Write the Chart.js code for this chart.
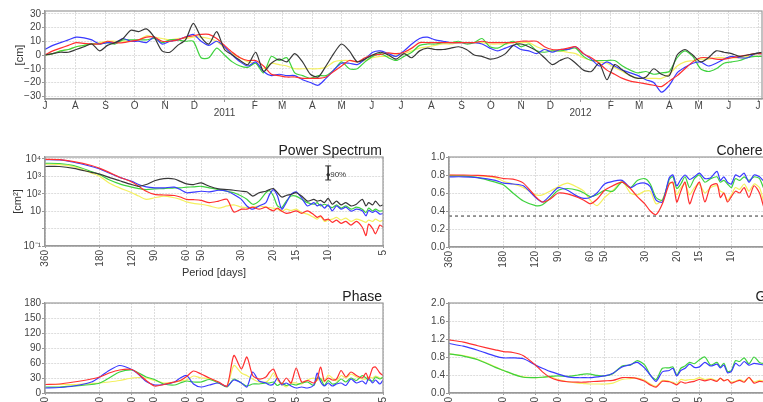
<!DOCTYPE html>
<html><head><meta charset="utf-8">
<script src="https://cdn.jsdelivr.net/npm/chart.js@4.4.1/dist/chart.umd.min.js"></script>
<style>
html,body{margin:0;padding:0;width:763px;height:402px;overflow:hidden;background:#fff;}
.box{position:absolute;}
canvas{display:block;}
</style></head><body>
<div class="box" style="left:0;top:0;width:763px;height:125px"><canvas id="c0" width="763" height="125"></canvas></div>
<div class="box" style="left:0;top:135px;width:400px;height:145px"><canvas id="c1" width="400" height="145"></canvas></div>
<div class="box" style="left:400px;top:135px;width:400px;height:145px"><canvas id="c2" width="400" height="145"></canvas></div>
<div class="box" style="left:0;top:280px;width:400px;height:150px"><canvas id="c3" width="400" height="150"></canvas></div>
<div class="box" style="left:400px;top:280px;width:400px;height:150px"><canvas id="c4" width="400" height="150"></canvas></div>
<script>
// ---------- DATA: time series (days since 1 Jul 2010) ----------
const days = [0,8,16,24,32,40,48,56,64,72,80,88,96,104,112,120,128,136,144,152,160,168,176,184,192,200,208,216,224,232,240,248,256,264,272,280,288,296,304,312,320,328,336,344,352,360,368,376,384,392,400,408,416,424,432,440,448,456,464,472,480,488,496,504,512,520,528,536,544,552,560,568,576,584,592,600,608,616,624,632,640,648,656,664,672,680,688,696,704,712,720,728,735];
const seaBlack = [0,1,2,2,4,6,8,3,7,9, 12,18,17,19,13,3,2,7,11,23, 13,8,17,4,0,-4,-7,2,-12,-6, -3,-5,1,-5,-14,-16,-8,1,8,3, -5,-3,0,2,0,-3,1,-2,3,5, 4,4,5,6,4,0,-1,-3,-2,1, 7,8,6,3,-2,-7,-4,-2,-6,-11, -12,-6,-18,-7,-11,-15,-17,-16,-10,-14, -15,0,4,0,-5,-2,3,2,1,-1, 0,1,2];
const seaBlue = [4,7,9,11,13,12.5,11,8,9,9, 12,10,10,9,13,8,10,11,13,15, 10,7,10,6,0,-5,-8,-5,-12,-15, -14,-15,-15,-18,-20,-22,-17,-11,-6,-6, -7,-3,2,3,1,-1,3,8,12,13, 11,10,9,9,9,9,8,5,3,5, 7,4,3,1,4,2,4,4,6,1, -3,-8,-5,-8,-11,-13,-15,-18,-20,-27, -22,-13,-9,-6,-5,-8,-6,-3,-1,-2, -2,1,1];
const seaRed = [0,3,5,7,9,8.5,8,8,10,9, 9,10,11,13,13,10,10,11,13,14, 15,15,12,7,2,-2,-4,-4,-8,-14, -15,-16,-16,-17,-17,-17,-16,-12,-8,-4, -5,-2,0,0.5,1.5,1,2,5,9,9, 9,9,9,9,9,9,10,9,9,9, 9,10,10,10,6,4,4,5,6,1, -2,-6,-11,-14,-17,-19,-20,-21,-22,-23, -19,-15,-10,-5,-2,-2,-3,-3,-2,-1, 0,1,1];
const seaGreen = [0,1,3,4,6,7,8,8,9,8, 11,11,11,11,12,9,11,11,10,10, -2,-2,5,0,-5,-8,-9,-6,-13,-1, -4,-2,-13,-15,-17,-15,-15,-11,-5,-10, -10,-5,-1,1,-2,-4,-1,2,7,8, 8,9,9,10,8,9,12,6,5,8, 10,6,8,3,2,3,3,4,5,-1, -4,-4,-4,-4,-8,-11,-13,-12,-14,-13, -12,-2,3,-1,-10,-12,-10,-6,-5,-4, -2,-1,-1];
const seaYellow = [0,1,3,4,6,7,8,9,10,10, 10,10,11,14,13,12,11,12,12,13, 13,12,10,5,1,-2,-5,-6,-10,-6, -7,-8,-10,-10,-10,-10,-9,-5,-4,-4, -5,-4,-2,-1,-1,0,1,3,5,6, 7,8,8,9,9,9,9,8,8,8, 9,9,9,6,4,3,3,2,1,-2, -4,-5,-6,-9,-12,-15,-17,-17,-17,-17, -14,-8,-5,-4,-3,-3,-2,-2,-2,-2, -1,-1,-1];
const monthTickDays = [0,31,62,92,123,153,184,215,243,274,304,335,365,396,427,457,488,518,549,580,609,640,670,701,731];
const monthTickLabels = ['J','A','S','O','N','D',['','2011'],'F','M','A','M','J','J','A','S','O','N','D',['','2012'],'F','M','A','M','J','J'];
const seaTicks = [-30,-20,-10,0,10,20,30];

// ---------- DATA: spectra (period in days) ----------
const periods = [360,300,250,200,180,160,140,120,110,100, 90,80,70,65,60,55,50,45,40,36, 33,30,28,26,24,22,21,20,19,18, 17,16,15,14,13,12,11.5,11,10.5,10, 9.5,9,8.5,8,7.5,7,6.5,6.2,6,5.7, 5.5,5.2,5];
const periodTicks = [360,180,120,90,60,50,30,20,15,10,5];

const psBlack = [3700,3700,2900,1700,1350,870,560,340,270,340, 560,740,710,520,370,340,420,270,190,175, 160,140,130,74,115,140,175,200,115,65, 80,92,115,74,38,48,38,42,31,55, 25,38,23,31,20,25,48,20,31,23, 38,20,23];
const psBlue = [9200,8900,6500,3700,2700,1550,870,520,340,250, 220,220,240,175,115,125,140,130,160,140, 92,48,20,13,20,31,92,175,74,13, 31,92,130,59,20,31,20,25,15,23, 10.5,20,13,17,10,13,10.5,5.4,11,8.4, 10.5,6.8,7.3];
const psRed = [9600,9200,7000,4200,2900,1700,900,480,270,140, 92,85,80,65,48,46,42,31,38,48, 9,13,13,17,13,17,13,10.5,15,10, 7.5,8.4,10.5,7.5,10.5,6.3,4.4,5.4,3.1,3.5, 2.3,3.1,2.0,2.6,1.6,2.6,1.2,0.4,1.8,1.0, 0.5,1.6,1.2];
const psGreen = [5700,5500,4200,1900,1230,640,370,240,200,175, 190,200,220,220,240,250,270,220,175,140, 115,74,48,25,38,115,150,74,20,16, 38,74,74,48,31,25,31,20,25,20, 16,23,15,20,13,17,13,8.4,15,10.5, 13,10,11];
const psYellow = [5000,4800,3700,1550,1000,420,220,115,74,48, 59,74,59,48,34,28,25,20,15,20, 23,17,16,17,20,17,16,15,13,10, 13,11,13,8.4,6.8,4.4,3.5,4.8,2.6,3.1, 3.5,4.4,3.1,4,2.6,3.5,2.8,2.3,3.1,2.6, 3.5,2.6,3.1];
const psTicks = [0.1,1,10,100,1000,10000];
const psTickLabels = ['10\u207B\u00B9','','10','10\u00B2','10\u00B3','10\u2074'];
const errPeriod = [10,10,10];
const errValues = [4000,1230,620];

const cohRed = [0.80,0.80,0.795,0.78,0.76,0.755,0.71,0.56,0.50,0.53, 0.60,0.59,0.55,0.52,0.48,0.53,0.63,0.68,0.72,0.65, 0.56,0.48,0.40,0.36,0.48,0.70,0.72,0.50,0.62,0.72, 0.48,0.62,0.72,0.50,0.68,0.70,0.55,0.60,0.50,0.56, 0.62,0.60,0.66,0.55,0.68,0.60,0.40,0.45,0.55,0.50, 0.52,0.48,0.50];
const cohBlue = [0.78,0.78,0.77,0.74,0.71,0.70,0.68,0.55,0.50,0.57, 0.66,0.63,0.56,0.54,0.55,0.60,0.70,0.73,0.74,0.66, 0.70,0.71,0.67,0.52,0.50,0.77,0.80,0.68,0.75,0.80, 0.75,0.78,0.82,0.76,0.77,0.84,0.74,0.78,0.72,0.70, 0.80,0.78,0.82,0.72,0.80,0.78,0.72,0.75,0.78,0.74, 0.76,0.72,0.74];
const cohGreen = [0.79,0.79,0.77,0.72,0.69,0.60,0.51,0.46,0.47,0.54, 0.63,0.65,0.63,0.60,0.56,0.58,0.63,0.62,0.72,0.66, 0.74,0.76,0.70,0.55,0.52,0.75,0.78,0.65,0.70,0.78, 0.66,0.76,0.80,0.72,0.76,0.78,0.72,0.74,0.70,0.66, 0.76,0.74,0.78,0.74,0.78,0.76,0.62,0.68,0.72,0.70, 0.72,0.68,0.70];
const cohYellow = [0.80,0.79,0.79,0.77,0.73,0.70,0.66,0.58,0.58,0.62, 0.67,0.71,0.66,0.62,0.52,0.46,0.55,0.63,0.73,0.60, 0.58,0.62,0.62,0.48,0.53,0.72,0.70,0.58,0.66,0.70, 0.58,0.66,0.70,0.60,0.66,0.68,0.62,0.60,0.52,0.58, 0.66,0.64,0.70,0.62,0.70,0.66,0.45,0.50,0.58,0.55, 0.56,0.52,0.54];
const cohLevel = [0.344,0.344];
const cohLevelPeriods = [360,5];
const cohTicks = [0,0.2,0.4,0.6,0.8,1.0];

const phRed = [17,18,22,28,32,40,46,47,38,25, 14,17,22,25,33,44,38,30,22,14, 75,48,72,35,28,32,42,48,30,18, 30,20,50,22,25,20,28,52,24,30, 26,28,45,32,42,35,30,40,28,50, 52,40,35];
const phYellow = [17,17,17,19,20,22,25,30,31,30, 25,20,22,24,26,34,30,29,20,14, 55,40,35,28,22,22,28,40,25,18, 12,20,20,18,26,30,25,30,22,36, 30,24,35,30,38,32,28,28,32,30, 34,30,30];
const phGreen = [12,12,14,17,20,30,42,46,40,32, 27,18,16,20,24,22,22,27,20,12, 28,20,14,18,18,20,20,22,15,20, 15,18,16,20,22,15,30,28,15,25, 18,20,28,22,30,25,35,30,26,24, 32,28,32];
const phBlue = [10,11,14,22,32,45,55,47,37,23, 16,17,22,30,35,18,12,16,20,13, 26,20,12,42,24,20,16,18,30,16, 20,14,10,12,10,16,40,22,14,20, 14,18,20,15,28,20,24,18,30,20, 26,18,26];
const phTicks = [0,30,60,90,120,150,180];

const gnRed = [1.18,1.13,1.05,0.96,0.92,0.90,0.83,0.62,0.47,0.35, 0.28,0.25,0.24,0.24,0.25,0.26,0.27,0.28,0.34,0.34, 0.32,0.26,0.18,0.13,0.26,0.25,0.22,0.18,0.25,0.22, 0.24,0.26,0.30,0.27,0.30,0.26,0.33,0.27,0.30,0.22, 0.25,0.28,0.24,0.35,0.22,0.26,0.24,0.28,0.25,0.27, 0.24,0.26,0.25];
const gnBlue = [1.10,1.04,0.95,0.82,0.78,0.78,0.76,0.62,0.55,0.48, 0.42,0.36,0.34,0.34,0.34,0.36,0.38,0.44,0.58,0.63, 0.68,0.55,0.40,0.26,0.47,0.50,0.55,0.38,0.50,0.55, 0.64,0.57,0.58,0.68,0.60,0.64,0.56,0.62,0.45,0.48, 0.66,0.60,0.70,0.62,0.66,0.64,0.62,0.66,0.60,0.64, 0.62,0.66,0.64];
const gnGreen = [0.87,0.82,0.74,0.57,0.50,0.42,0.35,0.34,0.35,0.37, 0.38,0.37,0.40,0.42,0.42,0.39,0.38,0.43,0.60,0.62, 0.72,0.62,0.40,0.30,0.55,0.56,0.58,0.40,0.55,0.60, 0.68,0.65,0.74,0.80,0.62,0.68,0.58,0.66,0.48,0.50, 0.72,0.70,0.78,0.65,0.80,0.68,0.66,0.72,0.64,0.70, 0.68,0.72,0.70];
const gnYellow = [0.87,0.83,0.75,0.58,0.50,0.42,0.36,0.34,0.35,0.36, 0.30,0.25,0.22,0.21,0.20,0.20,0.20,0.22,0.30,0.32, 0.33,0.28,0.20,0.15,0.28,0.26,0.24,0.20,0.30,0.28, 0.30,0.30,0.34,0.30,0.32,0.28,0.32,0.28,0.30,0.24, 0.26,0.30,0.26,0.33,0.25,0.28,0.26,0.28,0.27,0.28, 0.26,0.27,0.27];
const gnTicks = [0,0.4,0.8,1.2,1.6,2.0];

// ---------- STYLE ----------
const FONT = "'Liberation Sans', Arial, Helvetica, sans-serif";
Chart.defaults.font.family = FONT;
Chart.defaults.color = '#444';
const COL = {black:'#383838', blue:'#3a3aff', red:'#ff3030', green:'#3fd23f', yellow:'#f4f060'};
const GRID = '#dddddd';

const framePlugin = {
  id: 'frame',
  afterDraw(chart, args, opts) {
    const a = chart.chartArea, c = chart.ctx;
    c.save();
    c.strokeStyle = '#9a9a9a'; c.lineWidth = 1.2;
    c.strokeRect(a.left, a.top, a.right - a.left, a.bottom - a.top);
    if (opts && opts.text) {
      c.fillStyle = '#222'; c.font = '14px ' + FONT;
      c.textAlign = 'right'; c.textBaseline = 'alphabetic';
      c.fillText(opts.text, a.right - 1, a.top - 2);
    }
    c.restore();
  }
};
Chart.register(framePlugin);

function pts(xs, ys) { return xs.map((x, i) => ({x: x, y: ys[i]})); }
function ds(label, xs, ys, color) {
  return {label: label, data: pts(xs, ys), borderColor: color, backgroundColor: color,
          borderWidth: 1.2, pointRadius: 0, tension: 0.25, fill: false};
}
function gridOpts() { return {color: GRID, tickLength: 3, tickColor: '#999'}; }
function borderOpts() { return {color: '#999', width: 1.2, dash: [2, 1]}; }

// ---------- TOP: sea level time series ----------
new Chart(document.getElementById('c0'), {
  type: 'line',
  data: {datasets: [
    ds('black', days, seaBlack, COL.black),
    ds('red', days, seaRed, COL.red),
    ds('blue', days, seaBlue, COL.blue),
    ds('green', days, seaGreen, COL.green),
    ds('yellow', days, seaYellow, COL.yellow)
  ]},
  options: {
    responsive: false, animation: false, devicePixelRatio: 1,
    layout: {padding: {left: 0, right: 1, top: 11, bottom: 0}},
    plugins: {legend: {display: false}, tooltip: {enabled: false}, frame: {text: ''}},
    scales: {
      x: {type: 'linear', min: 0, max: 735,
          afterBuildTicks: s => { s.ticks = monthTickDays.map(v => ({value: v})); },
          afterFit: s => { s.height = 26; },
          ticks: {autoSkip: false, maxRotation: 0, minRotation: 0, padding: 1,
                  font: {size: 10, lineHeight: 0.65}, color: '#444',
                  callback: (v, i) => monthTickLabels[i]},
          grid: gridOpts(), border: borderOpts()},
      y: {type: 'linear', min: -32, max: 32,
          afterBuildTicks: s => { s.ticks = seaTicks.map(v => ({value: v})); },
          afterFit: s => { s.width = 45; },
          ticks: {autoSkip: false, padding: 1, font: {size: 10}, color: '#444',
                  callback: v => v < 0 ? '\u2212' + Math.abs(v) : String(v)},
          grid: gridOpts(), border: borderOpts(),
          title: {display: true, text: '[cm]', font: {size: 11}, color: '#333', padding: {top: 13, bottom: 0}}}
    }
  }
});

// ---------- spectral panels ----------
function specChart(id, cfg) {
  return new Chart(document.getElementById(id), {
    type: 'line',
    data: {datasets: cfg.datasets},
    options: {
      responsive: false, animation: false, devicePixelRatio: 1,
      layout: {padding: {left: 0, right: cfg.padRight, top: cfg.padTop, bottom: 0}},
      plugins: {legend: {display: false}, tooltip: {enabled: false}, frame: {text: cfg.title}},
      scales: {
        x: {type: 'logarithmic', reverse: true, min: 5, max: 360,
            afterBuildTicks: s => { s.ticks = periodTicks.map(v => ({value: v})); },
            afterFit: s => { s.height = cfg.xH; },
            ticks: {autoSkip: false, minRotation: 90, maxRotation: 90, padding: 2,
                    font: {size: 10}, color: '#444', callback: v => String(v)},
            grid: Object.assign(gridOpts(), {tickLength: 2}), border: borderOpts(),
            title: cfg.xTitle ? {display: true, text: cfg.xTitle, font: {size: 11}, color: '#333', padding: {top: 5, bottom: 0}} : {display: false}},
        y: {type: cfg.yType, min: cfg.yMin, max: cfg.yMax,
            afterBuildTicks: s => { s.ticks = cfg.yTicks.map(v => ({value: v})); },
            afterFit: s => { s.width = cfg.yW; },
            ticks: {autoSkip: false, padding: 1, font: {size: 10}, color: '#444', callback: cfg.yLabel},
            grid: gridOpts(), border: borderOpts(),
            title: cfg.yTitle ? {display: true, text: cfg.yTitle, font: {size: 11}, color: '#333', padding: {top: 11, bottom: 0}} : {display: false}}
      }
    },
    plugins: cfg.plugins || []
  });
}

const errLabelPlugin = {
  id: 'errLabel',
  afterDatasetsDraw(chart) {
    const idx = chart.data.datasets.findIndex(d => d.label === '90%');
    if (idx < 0) return;
    const p = chart.getDatasetMeta(idx).data[1];
    const c = chart.ctx;
    c.save(); c.font = '8px ' + FONT; c.fillStyle = '#333'; c.textBaseline = 'middle';
    c.fillText('90%', p.x + 2, p.y); c.restore();
  }
};

specChart('c1', {
  title: 'Power Spectrum', padRight: 17, padTop: 22, xH: 34, yW: 45,
  yType: 'logarithmic', yMin: 0.1, yMax: 13000, yTicks: psTicks,
  yLabel: (v, i) => psTickLabels[i], yTitle: '[cm\u00B2]', xTitle: 'Period [days]',
  datasets: [
    {label: '90%', data: pts(errPeriod, errValues), borderColor: '#333', backgroundColor: '#333', borderWidth: 1,
     tension: 0, pointStyle: ['line', 'circle', 'line'], pointRadius: [3, 1.3, 3], pointBorderWidth: 1},
    ds('black', periods, psBlack, COL.black),
    ds('red', periods, psRed, COL.red),
    ds('blue', periods, psBlue, COL.blue),
    ds('green', periods, psGreen, COL.green),
    ds('yellow', periods, psYellow, COL.yellow)
  ],
  plugins: [errLabelPlugin]
});

specChart('c2', {
  title: 'Coherence', padRight: 13, padTop: 22, xH: 33, yW: 49,
  yType: 'linear', yMin: 0, yMax: 1, yTicks: cohTicks,
  yLabel: v => v.toFixed(1),
  datasets: [
    {label: 'level', data: pts(cohLevelPeriods, cohLevel), borderColor: '#333', borderWidth: 1,
     borderDash: [3, 3], pointRadius: 0, tension: 0},
    ds('red', periods, cohRed, COL.red),
    ds('blue', periods, cohBlue, COL.blue),
    ds('green', periods, cohGreen, COL.green),
    ds('yellow', periods, cohYellow, COL.yellow)
  ]
});

specChart('c3', {
  title: 'Phase', padRight: 17, padTop: 23, xH: 37, yW: 45,
  yType: 'linear', yMin: 0, yMax: 180, yTicks: phTicks,
  yLabel: v => String(v),
  datasets: [
    ds('red', periods, phRed, COL.red),
    ds('blue', periods, phBlue, COL.blue),
    ds('green', periods, phGreen, COL.green),
    ds('yellow', periods, phYellow, COL.yellow)
  ]
});

specChart('c4', {
  title: 'Gain', padRight: 13, padTop: 23, xH: 37, yW: 49,
  yType: 'linear', yMin: 0, yMax: 2, yTicks: gnTicks,
  yLabel: v => v.toFixed(1),
  datasets: [
    ds('red', periods, gnRed, COL.red),
    ds('blue', periods, gnBlue, COL.blue),
    ds('green', periods, gnGreen, COL.green),
    ds('yellow', periods, gnYellow, COL.yellow)
  ]
});
</script>
</body></html>
